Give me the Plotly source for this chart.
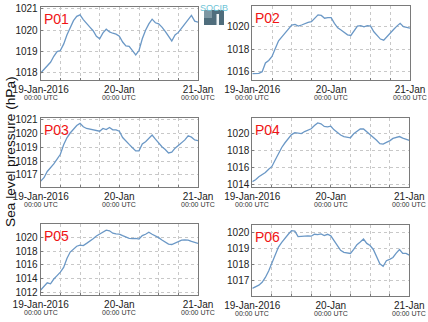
import pandas as pd
import plotly.graph_objects as go

# Hourly sea level pressure (hPa), 19-Jan-2016 00:00 UTC to 21-Jan-2016 00:00 UTC
times = pd.date_range("2016-01-19 00:00", "2016-01-21 00:00", freq="1h")

p01 = [1018.00, 1018.18, 1018.32, 1018.50, 1018.78, 1019.00, 1019.05, 1019.35, 1019.78,
       1020.15, 1020.45, 1020.65, 1020.72, 1020.50, 1020.30, 1020.15, 1019.98, 1019.72,
       1019.60, 1019.88, 1020.05, 1019.92, 1019.86, 1019.82, 1019.72, 1019.45, 1019.27,
       1019.25, 1019.05, 1018.85, 1019.05, 1019.60, 1020.00, 1020.30, 1020.52, 1020.35,
       1020.30, 1020.15, 1019.95, 1019.75, 1019.50, 1019.78, 1019.90, 1020.10, 1020.30,
       1020.55, 1020.70, 1020.43, 1020.38]
p02 = [1015.82, 1015.82, 1015.85, 1016.00, 1016.77, 1017.00, 1017.35, 1018.05, 1018.75,
       1019.10, 1019.45, 1019.80, 1020.15, 1020.20, 1020.05, 1020.15, 1020.30, 1020.38,
       1020.45, 1020.80, 1021.05, 1021.00, 1020.75, 1020.80, 1020.80, 1020.30, 1019.90,
       1019.70, 1019.48, 1019.28, 1019.22, 1019.60, 1020.05, 1020.10, 1019.98, 1020.10,
       1020.05, 1019.55, 1019.22, 1018.90, 1018.80, 1019.15, 1019.45, 1019.75, 1020.05,
       1020.30, 1020.00, 1019.92, 1019.88]
p03 = [1016.55, 1016.80, 1017.25, 1017.50, 1017.80, 1018.15, 1018.50, 1019.20, 1019.70,
       1020.05, 1020.35, 1020.60, 1020.75, 1020.50, 1020.38, 1020.33, 1020.28, 1020.20,
       1020.18, 1020.38, 1020.30, 1020.45, 1020.28, 1020.28, 1020.18, 1019.72, 1019.50,
       1019.22, 1018.98, 1018.75, 1018.75, 1019.25, 1019.42, 1019.70, 1019.90, 1019.60,
       1019.30, 1019.05, 1018.85, 1018.60, 1018.65, 1018.95, 1019.15, 1019.35, 1019.55,
       1019.85, 1019.75, 1019.55, 1019.50]
p04 = [1014.38, 1014.60, 1014.95, 1015.18, 1015.45, 1015.82, 1016.15, 1016.90, 1017.70,
       1018.35, 1018.90, 1019.40, 1019.85, 1020.08, 1020.05, 1019.96, 1020.20, 1020.40,
       1020.52, 1020.90, 1021.20, 1021.10, 1020.80, 1020.75, 1020.82, 1020.40, 1020.05,
       1019.80, 1019.62, 1019.52, 1019.48, 1019.95, 1020.28, 1020.50, 1020.50, 1020.20,
       1019.90, 1019.50, 1019.20, 1018.80, 1018.75, 1018.95, 1019.12, 1019.40, 1019.50,
       1019.62, 1019.45, 1019.30, 1019.19]
p05 = [1012.30, 1012.85, 1013.35, 1013.20, 1013.90, 1014.40, 1014.90, 1015.60, 1016.90,
       1017.85, 1018.35, 1018.70, 1018.85, 1018.80, 1019.12, 1019.40, 1019.80, 1020.20,
       1020.50, 1020.83, 1021.05, 1020.95, 1020.60, 1020.50, 1020.48, 1020.25, 1020.00,
       1019.85, 1019.82, 1019.85, 1019.75, 1020.25, 1020.45, 1020.75, 1020.45, 1020.25,
       1019.95, 1019.62, 1019.35, 1019.00, 1018.95, 1019.15, 1019.45, 1019.58, 1019.62,
       1019.60, 1019.40, 1019.20, 1019.10]
p06 = [1016.52, 1016.62, 1016.72, 1016.90, 1017.20, 1017.60, 1018.10, 1018.60, 1019.10,
       1019.40, 1019.62, 1019.90, 1020.13, 1020.10, 1019.75, 1019.78, 1019.80, 1019.80,
       1019.78, 1019.90, 1019.88, 1019.92, 1019.82, 1019.90, 1019.80, 1019.50, 1019.22,
       1018.90, 1018.77, 1018.73, 1018.70, 1018.95, 1019.25, 1019.42, 1019.60, 1019.33,
       1019.20, 1018.95, 1018.55, 1018.05, 1017.90, 1018.25, 1018.33, 1018.45, 1018.72,
       1018.95, 1018.70, 1018.70, 1018.60]

stations = ["P01", "P02", "P03", "P04", "P05", "P06"]
series = [p01, p02, p03, p04, p05, p06]

# y-axis tick values and view ranges per station
y_ticks = [
    [1018, 1019, 1020, 1021],
    [1016, 1018, 1020],
    [1017, 1018, 1019, 1020, 1021],
    [1014, 1016, 1018, 1020],
    [1012, 1014, 1016, 1018, 1020],
    [1017, 1018, 1019, 1020],
]
y_ranges = [
    [1017.67, 1021.09],
    [1015.26, 1021.84],
    [1016.10, 1021.12],
    [1013.73, 1021.74],
    [1011.52, 1021.95],
    [1016.04, 1020.48],
]

# x ticks every 6 hours, labelled once a day
x_ticks = pd.date_range("2016-01-19 00:00", "2016-01-21 00:00", freq="6h")
day_labels = {0: "19-Jan-2016", 4: "20-Jan", 8: "21-Jan"}
x_text = [day_labels.get(i, "") for i in range(len(x_ticks))]
hour_label = "00:00 UTC"

# subplot boxes in pixels: (left, right, top, bottom)
W, H = 428, 322
boxes = [
    (40.7, 198.0, 7.0, 80.0),
    (252.3, 410.0, 6.0, 80.0),
    (40.7, 198.0, 118.3, 187.3),
    (252.3, 409.3, 118.3, 187.3),
    (40.7, 198.0, 224.0, 295.3),
    (252.3, 409.3, 225.0, 296.0),
]

LINE = "#6b98c6"
GRID = "#c8c8c8"
FRAME = "#7a7a7a"
FONT = "Liberation Sans, Arial, sans-serif"

fig = go.Figure()
layout = dict(
    width=W, height=H,
    margin=dict(l=0, r=0, t=0, b=0, autoexpand=False),
    paper_bgcolor="white", plot_bgcolor="white",
    showlegend=False,
    font=dict(family=FONT, size=10, color="#222"),
    annotations=[], shapes=[],
)

for i, (name, vals, yt, yr, box) in enumerate(zip(stations, series, y_ticks, y_ranges, boxes)):
    n = "" if i == 0 else str(i + 1)
    xa, ya = "x" + n, "y" + n
    fig.add_trace(go.Scatter(
        x=times, y=vals, mode="lines",
        line=dict(color=LINE, width=1.3),
        xaxis=xa, yaxis=ya, hoverinfo="skip",
    ))
    l, r, t, b = box
    layout["xaxis" + n] = dict(
        domain=[l / W, r / W], anchor=ya, type="date",
        range=[times[0], times[-1]],
        tickvals=x_ticks, ticktext=x_text, tickangle=0,
        tickfont=dict(size=10, color="#222"),
        showgrid=True, gridcolor=GRID, griddash="dot", gridwidth=1,
        showline=True, linecolor=FRAME, linewidth=1, mirror=True,
        ticks="inside", ticklen=2, tickcolor=FRAME,
        zeroline=False, fixedrange=True,
    )
    layout["yaxis" + n] = dict(
        domain=[1 - b / H, 1 - t / H], anchor=xa,
        range=yr, tickvals=yt, ticktext=[str(v) for v in yt],
        tickfont=dict(size=10, color="#222"),
        showgrid=True, gridcolor=GRID, griddash="dot", gridwidth=1,
        showline=True, linecolor=FRAME, linewidth=1, mirror=True,
        ticks="inside", ticklen=2, tickcolor=FRAME,
        zeroline=False, fixedrange=True,
    )
    layout["annotations"].append(dict(
        text=name, xref=xa + " domain", yref=ya + " domain",
        x=0.006, y=0.975, xanchor="left", yanchor="top", showarrow=False,
        font=dict(size=14, color="#f01414", family=FONT),
    ))
    # second line under each dated tick
    for k in day_labels:
        layout["annotations"].append(dict(
            text=hour_label, xref=xa, yref=ya + " domain",
            x=x_ticks[k], y=0, yshift=-12, xanchor="center", yanchor="top",
            showarrow=False, font=dict(size=7, color="#333", family=FONT),
        ))

# shared y-axis title
layout["annotations"].append(dict(
    text="Sea level pressure (hPa)", xref="paper", yref="paper",
    x=10 / W, y=1 - 152 / H, xanchor="center", yanchor="middle",
    textangle=-90, showarrow=False, font=dict(size=13.7, color="#111", family=FONT),
))

# SOCIB mark at the top centre
layout["shapes"].append(dict(
    type="rect", xref="paper", yref="paper",
    x0=204 / W, x1=224 / W, y0=1 - 25 / H, y1=1 - 10 / H,
    fillcolor="#4f6d7c", line=dict(width=0), layer="above",
))
layout["shapes"].append(dict(
    type="rect", xref="paper", yref="paper",
    x0=204 / W, x1=212 / W, y0=1 - 18 / H, y1=1 - 10 / H,
    fillcolor="#7d97a3", line=dict(width=0), layer="above",
))
layout["shapes"].append(dict(
    type="rect", xref="paper", yref="paper",
    x0=216.5 / W, x1=219 / W, y0=1 - 25 / H, y1=1 - 14 / H,
    fillcolor="#eef3f5", line=dict(width=0), layer="above",
))
layout["annotations"].append(dict(
    text="SOCIB", xref="paper", yref="paper",
    x=214 / W, y=1 - 1 / H, xanchor="center", yanchor="top", showarrow=False,
    font=dict(size=9, color="#6cc3d6", family=FONT),
))

fig.update_layout(**layout)
fig.write_html("out.html")
